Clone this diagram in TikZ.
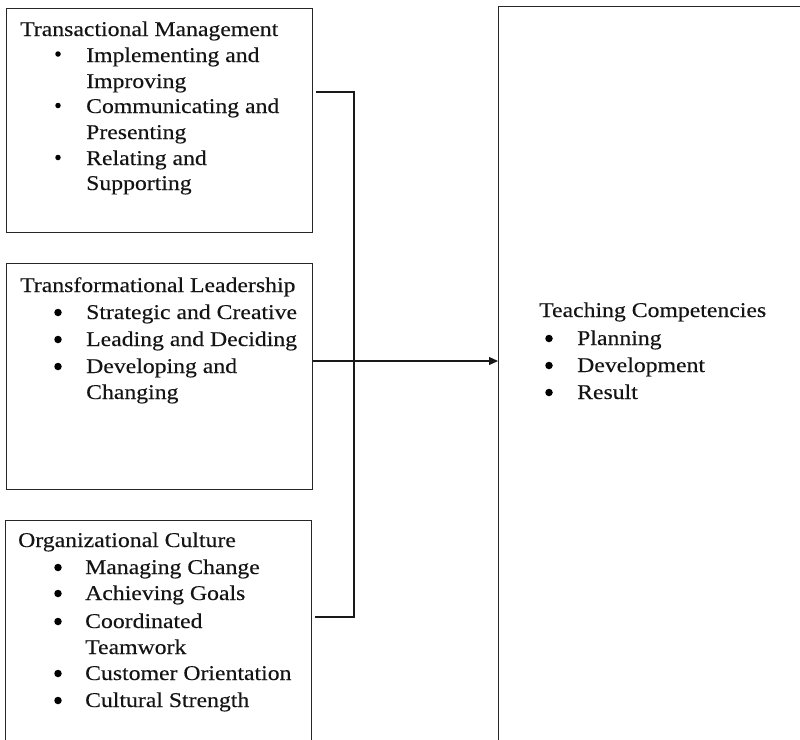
\documentclass[tikz,border=0pt]{standalone}
\usepackage{fontspec}
\setmainfont{Liberation Serif}[FakeStretch=1.13, FakeBold=0.25]
\usetikzlibrary{arrows.meta}
\begin{document}
\begin{tikzpicture}[x=1pt, y=-1pt,
  box/.style={draw=black!85, line width=1.1pt, rectangle, inner sep=0pt, anchor=north west},
  txt/.style={anchor=base west, inner sep=0pt, text=black!92, font=\fontsize{21}{25}\selectfont},
  dot/.style={circle, fill=black, inner sep=0pt, minimum size=7.5pt},
  smalldot/.style={dot, minimum size=5.5pt},
  link/.style={draw=black!90, line width=1.1pt}]
\useasboundingbox (0,0) rectangle (800,739);
\clip (0,0) rectangle (800,739);

% frames
\node[box, minimum width=306pt, minimum height=224pt] (tm) at (6,8) {};
\node[box, minimum width=306pt, minimum height=226pt] (tl) at (6,263) {};
\node[box, minimum width=306pt, minimum height=240pt] (oc) at (5,520) {};
\node[box, minimum width=330pt, minimum height=760pt] (tc) at (498,6) {};

% Transactional Management
\node[txt] (tmT) at (20,36) {Transactional Management};
\node[smalldot] (tmB1) at (58,54) {};
\node[txt] (tm1a) at (86,62) {Implementing and};
\node[txt] (tm1b) at (86,88) {Improving};
\node[smalldot] (tmB2) at (58,105.5) {};
\node[txt] (tm2a) at (86,113) {Communicating and};
\node[txt] (tm2b) at (86,139) {Presenting};
\node[smalldot] (tmB3) at (58,157.5) {};
\node[txt] (tm3a) at (86,165) {Relating and};
\node[txt] (tm3b) at (86,190) {Supporting};

% Transformational Leadership
\node[txt] (tlT) at (20,292) {Transformational Leadership};
\node[dot] (tlB1) at (58,312.5) {};
\node[txt] (tl1) at (86,319) {Strategic and Creative};
\node[dot] (tlB2) at (58,339.5) {};
\node[txt] (tl2) at (86,346) {Leading and Deciding};
\node[dot] (tlB3) at (58,366.5) {};
\node[txt] (tl3a) at (86,373) {Developing and};
\node[txt] (tl3b) at (86,399) {Changing};

% Organizational Culture
\node[txt] (ocT) at (18,547) {Organizational Culture};
\node[dot] (ocB1) at (58,567.5) {};
\node[txt] (oc1) at (85,574) {Managing Change};
\node[dot] (ocB2) at (58,593.5) {};
\node[txt] (oc2) at (85,600) {Achieving Goals};
\node[dot] (ocB3) at (58,621.5) {};
\node[txt] (oc3a) at (85,628) {Coordinated};
\node[txt] (oc3b) at (85,654) {Teamwork};
\node[dot] (ocB4) at (58,673.5) {};
\node[txt] (oc4) at (85,680) {Customer Orientation};
\node[dot] (ocB5) at (58,700.5) {};
\node[txt] (oc5) at (85,707) {Cultural Strength};

% Teaching Competencies
\node[txt] (tcT) at (539,317) {Teaching Competencies};
\node[dot] (tcB1) at (549,338.5) {};
\node[txt] (tc1) at (577,345) {Planning};
\node[dot] (tcB2) at (549,365.5) {};
\node[txt] (tc2) at (577,372) {Development};
\node[dot] (tcB3) at (549,392.5) {};
\node[txt] (tc3) at (577,399) {Result};

% connectors
\coordinate (jTop) at (354,92);
\coordinate (jMid) at (354,361);
\coordinate (jBot) at (354,617);
\draw[link, shorten <=3pt, shorten >=3pt] (tm.east |- jTop) -- (jTop) -- (jBot) -- (oc.east |- jBot);
\draw[link, -{Triangle[length=9pt, width=8pt]}] (tl.east |- jMid) -- (tc.west |- jMid);
\end{tikzpicture}
\end{document}
